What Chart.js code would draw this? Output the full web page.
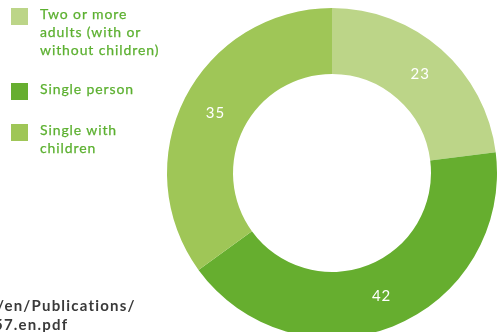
<!DOCTYPE html>
<html>
<head>
<meta charset="utf-8">
<script src="https://cdn.jsdelivr.net/npm/chart.js@4/dist/chart.umd.min.js"></script>
<style>
  html, body { margin: 0; padding: 0; width: 497px; height: 332px; overflow: hidden; background: #fff; }
  #wrap { position: absolute; left: 0; top: 0; width: 497px; height: 346px; }
  #legend { position: absolute; left: 11px; top: 0; font-family: Lato, sans-serif; font-size: 14px; letter-spacing: 0.9px; color: #5cb030; -webkit-text-stroke: 0.25px #5cb030; }
  .item { position: absolute; left: 0; white-space: nowrap; }
  .box { position: absolute; left: 0; width: 17px; height: 17px; -webkit-text-stroke: 0; }
  .txt { position: absolute; left: 29px; line-height: 18px; }
  #source { position: absolute; font-family: Lato, sans-serif; font-weight: bold; font-size: 15px; color: #3a3a3a; letter-spacing: 1.2px; line-height: 18.5px; white-space: nowrap; }
</style>
</head>
<body>
<div id="wrap"><canvas id="donut" width="497" height="346"></canvas></div>
<div id="legend"></div>
<div id="source" style="left:-3px; top:296px;">/en/Publications/<br><span style="margin-left:-3px">57.en.pdf</span></div>
<script>
// Chart data
var labels = ['Two or more adults (with or without children)', 'Single person', 'Single with children'];
var legendLines = [['Two or more', 'adults (with or', 'without children)'], ['Single person'], ['Single with', 'children']];
var values = [23, 42, 35];
var colors = ['#bcd588', '#66ae2f', '#9fc657'];

// Legend drawn next to the chart
var legendTops = [8, 83, 124];
var legend = document.getElementById('legend');
for (var i = 0; i < labels.length; i++) {
    var item = document.createElement('div');
    item.className = 'item';
    item.style.top = legendTops[i] + 'px';
    var box = document.createElement('div');
    box.className = 'box';
    box.style.background = colors[i];
    var txt = document.createElement('div');
    txt.className = 'txt';
    txt.style.top = '-3px';
    txt.innerHTML = legendLines[i].join('<br>');
    item.appendChild(box);
    item.appendChild(txt);
    legend.appendChild(item);
}

// Plugin to write the value in the middle of each slice
var sliceLabels = {
    id: 'sliceLabels',
    afterDatasetsDraw: function(chart) {
        var ctx = chart.ctx;
        var meta = chart.getDatasetMeta(0);
        ctx.save();
        ctx.fillStyle = '#ffffff';
        ctx.font = '15px Lato, sans-serif';
        ctx.textAlign = 'center';
        ctx.textBaseline = 'middle';
        if ('letterSpacing' in ctx) ctx.letterSpacing = '1px';
        meta.data.forEach(function(arc, i) {
            var pos = arc.tooltipPosition();
            ctx.fillText(String(values[i]), pos.x + 1, pos.y);
        });
        ctx.restore();
    }
};

var ctx = document.getElementById('donut').getContext('2d');
new Chart(ctx, {
    type: 'doughnut',
    data: {
        labels: labels,
        datasets: [{
            data: values,
            backgroundColor: colors,
            borderWidth: 0
        }]
    },
    options: {
        responsive: false,
        animation: false,
        cutout: '60%',
        layout: { padding: { left: 167, top: 8, right: 0, bottom: 8 } },
        plugins: {
            legend: { display: false },
            tooltip: { enabled: false }
        }
    },
    plugins: [sliceLabels]
});
</script>
</body>
</html>
